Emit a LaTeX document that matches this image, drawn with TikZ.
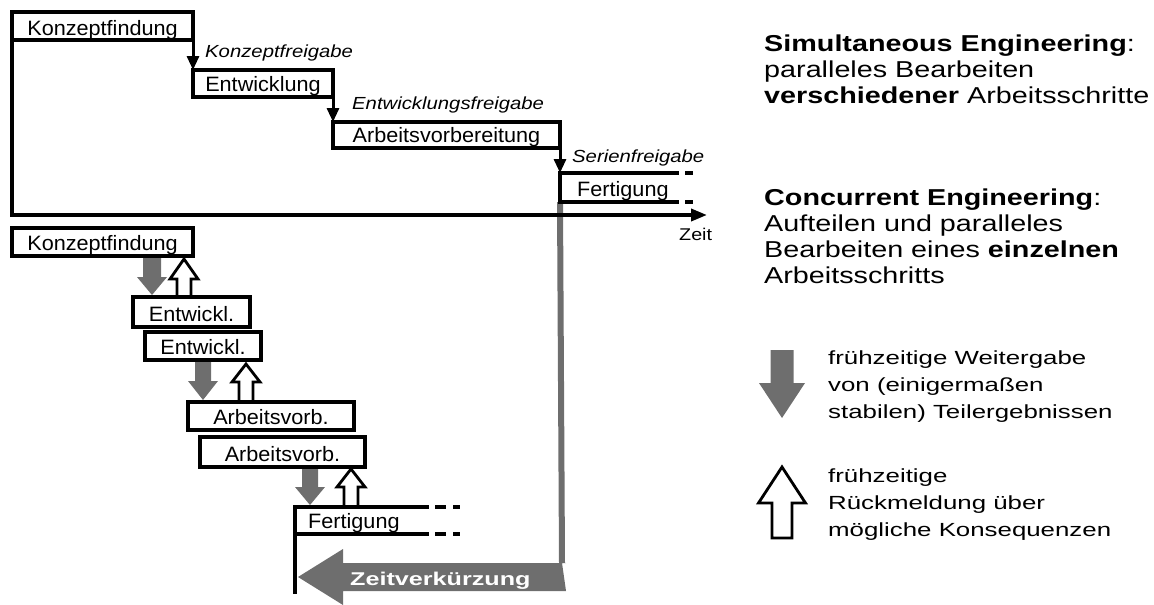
\documentclass[tikz,border=0pt]{standalone}
\usepackage{fontspec}
\setmainfont{Liberation Sans}
\newfontfamily\boxfont{Liberation Sans}[FakeStretch=1.04]
\newfontfamily\labelfont{Liberation Sans}[FakeStretch=1.16]
\newfontfamily\sidefont{Liberation Sans}[FakeStretch=1.25]
\newfontfamily\legendfont{Liberation Sans}[FakeStretch=1.36]
\usetikzlibrary{arrows.meta}
\definecolor{arrowgray}{HTML}{6E6E6E}

% block arrow: style, centre x, tail y, head base y, tip y, half shaft, half head
\newcommand{\fatarrow}[7]{%
  \path[#1] (#2-#6,#3) -- (#2-#6,#4) -- (#2-#7,#4) -- (#2,#5)
    -- (#2+#7,#4) -- (#2+#6,#4) -- (#2+#6,#3) -- cycle;}

\tikzset{
  frame/.style={draw=black, line width=3.6pt, line cap=rect, line join=miter},
  dashbit/.style={draw=black, line width=3.6pt, line cap=butt},
  flow/.style={draw=black, line width=3pt, -{Triangle[length=14pt,width=12pt]}},
  axis/.style={draw=black, line width=3.6pt, line cap=rect, -{Triangle[length=16pt,width=12pt]}},
  boxtext/.style={font=\boxfont\fontsize{20.8}{24}\selectfont, anchor=base, inner sep=0pt},
  release/.style={font=\labelfont\itshape\fontsize{17.5}{20}\selectfont, anchor=base west, inner sep=0pt},
  sidetext/.style={font=\sidefont\fontsize{23}{26}\selectfont, anchor=base west, inner sep=0pt},
  legendtext/.style={font=\legendfont\fontsize{19}{22}\selectfont, anchor=base west, inner sep=0pt},
  handover/.style={fill=arrowgray, draw=none},
  feedback/.style={fill=white, draw=black, line width=2.8pt, line join=miter},
}

\begin{document}
\begin{tikzpicture}[x=1pt, y=-1pt]
\useasboundingbox (0,0) rectangle (1154,605);

% ---------- sequential process ----------
\coordinate (o)     at (12,215);
\coordinate (kf-tl) at (12,12);
\coordinate (kf-tr) at (193,12);
\coordinate (kf-br) at (193,40);
\coordinate (kf-bl) at (12,40);
\coordinate (ew-tl) at (193,70);
\coordinate (ew-tr) at (333,70);
\coordinate (ew-br) at (333,97);
\coordinate (ew-bl) at (193,97);
\coordinate (av-tl) at (333,122);
\coordinate (av-tr) at (560,122);
\coordinate (av-br) at (560,148);
\coordinate (av-bl) at (333,148);
\coordinate (fg-tl) at (560,173);
\coordinate (fg-bl) at (560,202);
\coordinate (fg-te) at (677,173);
\coordinate (fg-be) at (677,202);
\coordinate (ax-end) at (707,215);
\coordinate (zv-r)  at (562,563);

% shortening marker from the sequential end down to the arrow
\draw[arrowgray, line width=6pt] (fg-bl) -- (zv-r);

\draw[frame] (o) -- (kf-tl) -- (kf-tr) -- (kf-br) -- (kf-bl);
\draw[frame] (ew-tl) -- (ew-tr) -- (ew-br) -- (ew-bl) -- cycle;
\draw[frame] (av-tl) -- (av-tr) -- (av-br) -- (av-bl) -- cycle;
\draw[frame] (fg-te) -- (fg-tl) -- (fg-bl) -- (fg-be);
\draw[dashbit] (685,173) -- (693,173);
\draw[dashbit] (685,202) -- (693,202);

\draw[flow] (kf-br) -- (ew-tl);
\draw[flow] (ew-br) -- (av-tl);
\draw[flow] (av-br) -- (fg-tl);
\draw[axis] (o) -- (ax-end);

\node[boxtext] (t-kf) at (102.5,35) {Konzeptfindung};
\node[boxtext] (t-ew) at (263,91) {Entwicklung};
\node[boxtext] (t-av) at (446.5,142) {Arbeitsvorbereitung};
\node[boxtext, anchor=base west] (t-fg) at (577,196) {Fertigung};

\node[release] (r-kf) at (205,57) {Konzeptfreigabe};
\node[release] (r-ew) at (352,109) {Entwicklungsfreigabe};
\node[release] (r-se) at (572,162) {Serienfreigabe};
\node[font=\labelfont\fontsize{17}{20}\selectfont, anchor=base west, inner sep=0pt] (zeit) at (679,240) {Zeit};

% ---------- overlapping process ----------
\fatarrow{handover}{152}{256}{277}{295}{9}{15}
\fatarrow{feedback}{184}{297}{279}{259}{7}{14}
\fatarrow{handover}{203}{360}{381}{400}{8}{15}
\fatarrow{feedback}{246}{402}{382}{364}{7}{14}
\fatarrow{handover}{310}{467}{487}{505}{8}{15}
\fatarrow{feedback}{351}{507}{487}{469}{7}{14}

\draw[frame] (12,228) rectangle (193,256);
\draw[frame] (133,297) rectangle (250,327);
\draw[frame] (145,332) rectangle (261,360);
\draw[frame] (188,402) rectangle (354,430);
\draw[frame] (200,437) rectangle (365,467);
\draw[frame] (427,507) -- (295,507) -- (295,592);
\draw[frame] (295,534) -- (427,534);
\draw[dashbit] (435,507) -- (446,507);
\draw[dashbit] (453,507) -- (460,507);
\draw[dashbit] (435,534) -- (446,534);
\draw[dashbit] (453,534) -- (460,534);

\node[boxtext] (c-kf)  at (102.5,250) {Konzeptfindung};
\node[boxtext] (c-ew1) at (191.5,321) {Entwickl.};
\node[boxtext] (c-ew2) at (203,354) {Entwickl.};
\node[boxtext] (c-av1) at (271,424) {Arbeitsvorb.};
\node[boxtext] (c-av2) at (282.5,461) {Arbeitsvorb.};
\node[boxtext, anchor=base west] (c-fg) at (308,528) {Fertigung};

% time saving arrow
\path[handover] (zv-r) -- (566,563) -- (343,563) -- (343,549) -- (298,577)
  -- (343,605) -- (343,591) -- (566,591) -- cycle;
\node[font=\legendfont\bfseries\fontsize{18.5}{22}\selectfont, text=white,
      anchor=base west, inner sep=0pt] (zv) at (350,585) {Zeitverkürzung};

% ---------- explanations ----------
\node[sidetext] (se1) at (764,51) {\textbf{Simultaneous Engineering}:};
\node[sidetext] (se2) at (764,77) {paralleles Bearbeiten};
\node[sidetext] (se3) at (764,103) {\textbf{verschiedener} Arbeitsschritte};

\node[sidetext] (ce1) at (764,205) {\textbf{Concurrent Engineering}:};
\node[sidetext] (ce2) at (764,231) {Aufteilen und paralleles};
\node[sidetext] (ce3) at (764,257) {Bearbeiten eines \textbf{einzelnen}};
\node[sidetext] (ce4) at (764,283) {Arbeitsschritts};

\fatarrow{handover}{782}{350}{383}{418}{11.5}{23}
\fatarrow{feedback}{782}{538}{503}{467}{10}{23.5}

\node[legendtext] (lg1) at (828,364) {frühzeitige Weitergabe};
\node[legendtext] (lg2) at (828,391) {von (einigermaßen};
\node[legendtext] (lg3) at (828,418) {stabilen) Teilergebnissen};
\node[legendtext] (lf1) at (828,482) {frühzeitige};
\node[legendtext] (lf2) at (828,509) {Rückmeldung über};
\node[legendtext] (lf3) at (828,536) {mögliche Konsequenzen};
\end{tikzpicture}
\end{document}
